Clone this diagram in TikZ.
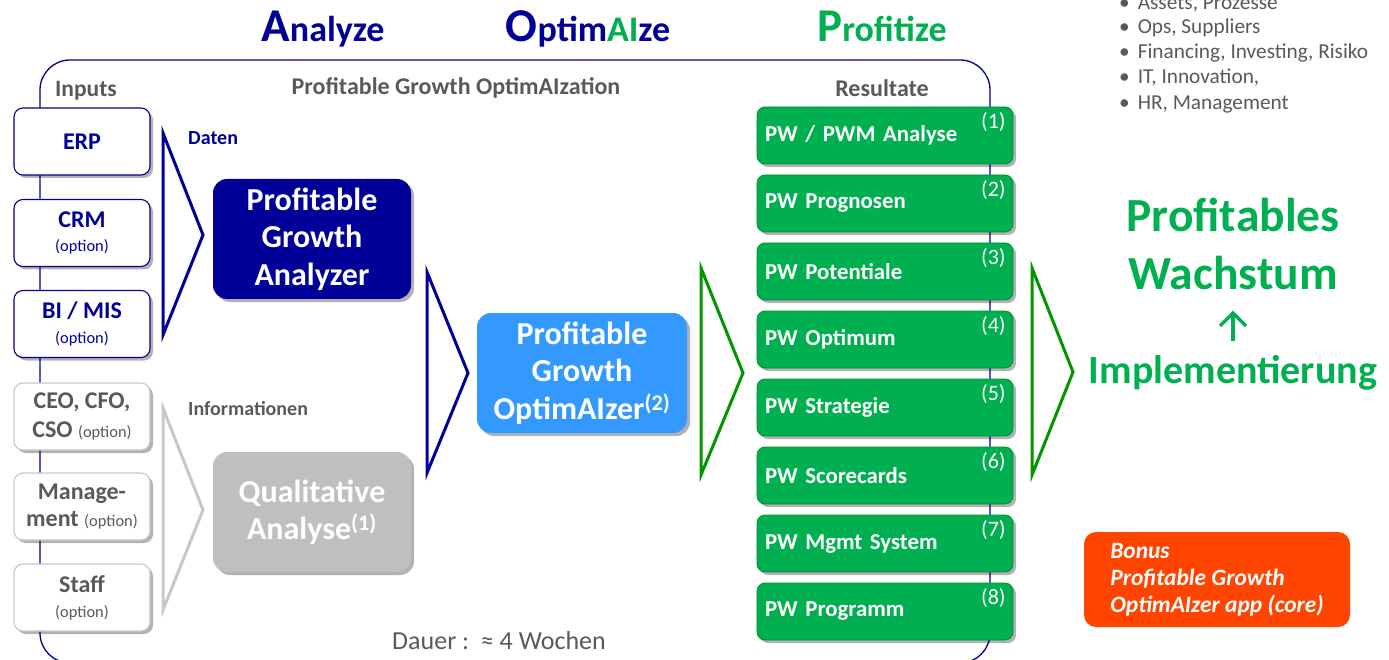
\documentclass[tikz,border=0pt]{standalone}
\usepackage{fontspec}
\setmainfont{Carlito}
\usetikzlibrary{shadows}
\definecolor{navy}{RGB}{0,0,153}
\definecolor{gtxt}{RGB}{0,176,80}
\definecolor{gdark}{RGB}{0,150,0}
\definecolor{grayt}{RGB}{89,89,89}
\definecolor{lgray}{RGB}{191,191,191}
\definecolor{ltri}{RGB}{200,200,200}
\definecolor{bluebox}{RGB}{51,153,255}
\definecolor{orangebox}{RGB}{255,69,0}
\definecolor{gfill}{RGB}{0,176,80}
\definecolor{gborder}{RGB}{0,140,50}
\newcommand{\fs}[1]{\fontsize{#1}{1.2\dimexpr #1pt\relax}\selectfont}
\newcommand{\optf}{\mdseries\fs{16.4}}
\tikzset{
  shad/.style={drop shadow={shadow xshift=3pt, shadow yshift=-3pt, opacity=0.3, fill=black}},
  inbox/.style={draw, rounded corners=9pt, fill=white, minimum width=136pt, minimum height=67pt, line width=1.1pt, align=center, inner sep=2pt, shad},
  bluein/.style={inbox, draw=navy, text=navy, font=\bfseries\fs{24}},
  grayin/.style={inbox, draw=ltri, text=grayt, font=\bfseries\fs{24}},
  bigbox/.style={rounded corners=14pt, minimum width=198pt, minimum height=120pt, align=center, text=white, font=\bfseries\fs{32}, shad},
  gbox/.style={draw=gborder, fill=gfill, rounded corners=8pt, minimum width=256pt, minimum height=57pt, text width=240pt, align=left, text=white, font=\bfseries\fs{22.8}, line width=0.8pt, shad},
  gnum/.style={text=white, font=\fs{22}, inner sep=0pt},
  hdr/.style={text=grayt, font=\bfseries\fs{24}, inner sep=0pt},
  tri/.style={line width=3pt, line join=miter, fill=white},
  bullet/.style={text=grayt, font=\fs{21.3}, anchor=west, inner sep=0pt},
}
\begin{document}
\begin{tikzpicture}[x=1pt, y=-1pt]
\useasboundingbox (0,0) rectangle (1389,660);
% frame
\draw[navy, line width=1.3pt, rounded corners=30pt] (40,60) rectangle (990,663);
% titles
\node[text=navy, font=\bfseries, inner sep=0pt, anchor=base] (tA) at (323,42) {{\fs{47}A}{\fs{36}nalyze}};
\node[text=navy, font=\bfseries, inner sep=0pt, anchor=base] (tO) at (588,42) {{\fs{47}O}{\fs{36}ptim\textcolor{gtxt}{AI}ze}};
\node[text=gtxt, font=\bfseries, inner sep=0pt, anchor=base] (tP) at (882,42) {{\fs{47}P}{\fs{36}rofitize}};
% headers
\node[hdr, font=\bfseries\fs{23.5}] (hin) at (86,91) {Inputs};
\node[hdr] (hpg) at (456,88) {Profitable Growth OptimAIzation};
\node[hdr] (hres) at (882,88) {Resultate};
% input boxes
\node[bluein] (erp) at (82,141.5) {ERP};
\node[bluein] (crm) at (82,233) {CRM\\[-4pt]{\optf (option)}};
\node[bluein] (bi) at (82,324) {BI / MIS\\[-4pt]{\optf (option)}};
\node[grayin] (ceo) at (82,416.5) {CEO, CFO,\\[0pt]CSO {\optf (option)}};
\node[grayin] (mgmt) at (82,506.5) {Manage-\\[-2pt]ment {\optf (option)}};
\node[grayin] (staff) at (82,597.5) {Staff\\[-4pt]{\optf (option)}};
% triangles
\draw[tri, draw=navy] (163,133) -- (203,235) -- (163,335) -- cycle;
\draw[tri, draw=ltri] (163,408) -- (203,510) -- (163,610) -- cycle;
\draw[tri, draw=navy] (427,272) -- (468,373) -- (427,473) -- cycle;
\draw[tri, draw=gdark] (701,268) -- (743,373) -- (701,475) -- cycle;
\draw[tri, draw=gdark] (1032,268) -- (1073,372) -- (1032,475) -- cycle;
% labels
\node[text=navy, font=\bfseries\fs{20}, inner sep=0pt, anchor=west] (daten) at (188,138) {Daten};
\node[text=grayt, font=\bfseries\fs{20}, inner sep=0pt, anchor=west] (info) at (188,409) {Informationen};
% big boxes
\node[bigbox, fill=navy] (pga) at (312,239) {Profitable\\[-1pt]Growth\\[-1pt]Analyzer};
\node[bigbox, fill=lgray] (qa) at (312,512) {Qualitative\\[-1pt]Analyse\textsuperscript{(1)}};
\node[bigbox, fill=bluebox, minimum width=210pt] (pgo) at (582,373) {Profitable\\[-1pt]Growth\\[-1pt]OptimAIzer\textsuperscript{(2)}};
% green result boxes
\foreach \i/\t in {1/{PW / PWM Analyse},2/{PW Prognosen},3/{PW Potentiale},4/{PW Optimum},5/{PW Strategie},6/{PW Scorecards},7/{PW Mgmt System},8/{PW Programm}}{
  \node[gbox] (g\i) at (885,{135.5+68*(\i-1)}) {\t};
  \node[gnum] (n\i) at ([xshift=-20pt, yshift=-15pt]g\i.north east) {(\i)};
}
% right side
\node[text=gtxt, font=\bfseries\fs{47.5}, inner sep=0pt] (pw1) at (1233,215) {Profitables};
\node[text=gtxt, font=\bfseries\fs{47.5}, inner sep=0pt] (pw2) at (1233,273) {Wachstum};
\draw[gtxt, line width=3.5pt] (1233,341) -- (1233,314);
\draw[gtxt, line width=3.5pt, line join=miter] (1220,326) -- (1233,313) -- (1246,326);
\node[text=gtxt, font=\bfseries\fs{40}, inner sep=0pt] (impl) at (1233,373) {Implementierung};
% bullets
\node[bullet] (b1) at (1119,4) {•\hspace{8pt}Assets, Prozesse};
\node[bullet] (b2) at (1119,28) {•\hspace{8pt}Ops, Suppliers};
\node[bullet] (b3) at (1119,53) {•\hspace{8pt}Financing, Investing, Risiko};
\node[bullet] (b4) at (1119,78) {•\hspace{8pt}IT, Innovation,};
\node[bullet] (b5) at (1119,104) {•\hspace{8pt}HR, Management};
% bonus
\node[fill=orangebox, rounded corners=12pt, minimum width=266pt, minimum height=95pt, align=left, text=white, font=\bfseries\itshape\fs{23.4}] (bonus) at (1217,579.5) {Bonus\\[-1pt]Profitable Growth\\[-1pt]OptimAIzer app (core)};
% duration
\node[text=grayt, font=\fs{26}, inner sep=0pt] (dauer) at (499,641) {Dauer :\ \ ≈ 4 Wochen};
\end{tikzpicture}
\end{document}
